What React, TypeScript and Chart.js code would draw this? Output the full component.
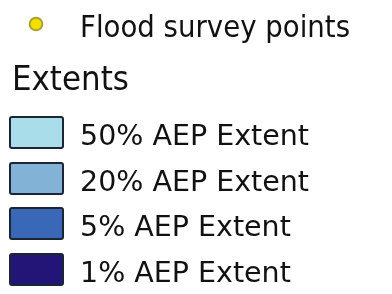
import React, { useEffect, useRef } from "react";
import { Chart, registerables } from "chart.js";

Chart.register(...registerables);

const pointLabel = "Flood survey points";
const pointColor = "#f4e000";
const pointBorder = "#b0a030";
const groupTitle = "Extents";
const extentLabels = ["50% AEP Extent", "20% AEP Extent", "5% AEP Extent", "1% AEP Extent"];
const extentColors = ["#a8dde9", "#83b2d7", "#3868b6", "#231478"];
const extentBorder = "#1c2535";

function scaledText(ctx: CanvasRenderingContext2D, text: string, x: number, y: number, size: number, sx: number) {
  ctx.save();
  ctx.translate(x, y);
  ctx.scale(sx, 1);
  ctx.font = `${size}px DejaVu Sans, sans-serif`;
  ctx.fillText(text, 0, 0);
  ctx.restore();
}

const legendPlugin = {
  id: "mapLegend",
  afterDraw(chart: any) {
    const ctx = chart.ctx as CanvasRenderingContext2D;
    const ds = chart.data.datasets;
    ctx.save();
    ctx.fillStyle = "#ffffff";
    ctx.fillRect(0, 0, chart.width, chart.height);
    // point item
    const p = ds[0];
    ctx.beginPath();
    ctx.arc(36, 24, 6.3, 0, Math.PI * 2);
    ctx.fillStyle = p.backgroundColor;
    ctx.fill();
    ctx.lineWidth = 2;
    ctx.strokeStyle = p.borderColor;
    ctx.stroke();
    ctx.fillStyle = "#111111";
    ctx.textBaseline = "alphabetic";
    ctx.textAlign = "left";
    scaledText(ctx, p.label, 80, 37, 30, 0.92);
    // title
    scaledText(ctx, groupTitle, 12, 90, 34, 0.91);
    // extents
    const tops = [117, 163, 208, 254];
    for (let i = 1; i < ds.length; i++) {
      const d = ds[i];
      const top = tops[i - 1];
      ctx.beginPath();
      ctx.roundRect(10, top, 53, 31, 2);
      ctx.fillStyle = d.backgroundColor;
      ctx.fill();
      ctx.lineWidth = 2;
      ctx.strokeStyle = d.borderColor;
      ctx.stroke();
      ctx.fillStyle = "#111111";
      scaledText(ctx, d.label, 80, top + 28, 28.5, 1);
    }
    ctx.restore();
  },
};

export default function App() {
  const ref = useRef<HTMLCanvasElement>(null);
  useEffect(() => {
    document.body.style.margin = "0";
    const chart = new Chart(ref.current!, {
      type: "bar",
      data: {
        labels: [""],
        datasets: [
          { type: "scatter", label: pointLabel, data: [], backgroundColor: pointColor, borderColor: pointBorder } as any,
          ...extentLabels.map((l, i) => ({
            label: l,
            data: [],
            backgroundColor: extentColors[i],
            borderColor: extentBorder,
          })),
        ],
      },
      options: {
        animation: false,
        responsive: false,
        scales: { x: { display: false }, y: { display: false } },
        plugins: { legend: { display: false }, tooltip: { enabled: false } },
      },
      plugins: [legendPlugin],
    });
    return () => chart.destroy();
  }, []);
  return (
    <div style={{ width: 392, height: 294, background: "#fff" }}>
      <canvas ref={ref} width={392} height={294} />
    </div>
  );
}
